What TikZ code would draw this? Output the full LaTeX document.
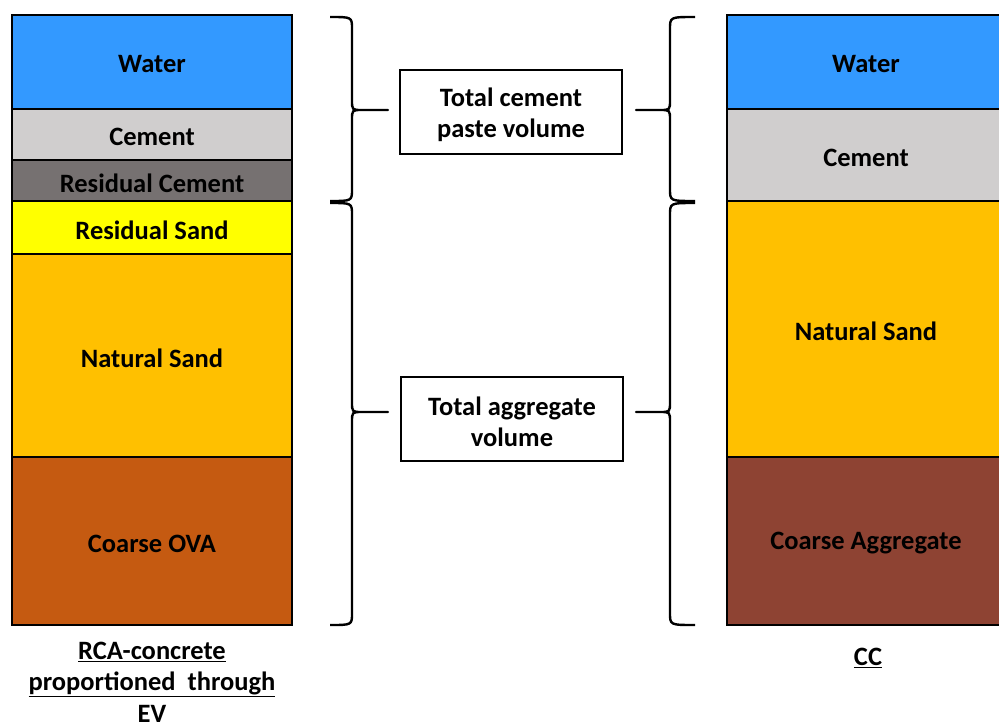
\documentclass[tikz,border=0pt]{standalone}
\usepackage{fontspec}
\setmainfont{Carlito}
\definecolor{water}{HTML}{3399FF}
\definecolor{cement}{HTML}{D0CECE}
\definecolor{rescement}{HTML}{767171}
\definecolor{ressand}{HTML}{FFFF00}
\definecolor{natsand}{HTML}{FFC000}
\definecolor{ova}{HTML}{C55A11}
\definecolor{coarse}{HTML}{8E4333}
\tikzset{
  layer/.style={draw=black, line width=2.2pt, inner sep=0pt, align=center,
    font=\fontsize{26.5}{31}\selectfont\bfseries},
  lcol/.style={layer, minimum width=280pt},
  rcol/.style={layer, minimum width=278pt},
  labelbox/.style={draw=black, line width=2pt, fill=white, minimum width=222pt,
    minimum height=84pt, align=center, inner sep=0pt,
    font=\fontsize{26.5}{31}\selectfont\bfseries},
  caption/.style={align=center, inner sep=0pt,
    font=\fontsize{26.5}{31.5}\selectfont\bfseries},
  brace/.style={draw=black, line width=2.4pt, line join=round}
}
% curly brace: #1 end x, #2 spine x, #3 tip x, #4 top y, #5 tip y, #6 bottom y, #7 bend x
\newcommand\curlybrace[7]{%
  \draw[brace] (#1,#4) .. controls (#2,#4) .. (#2,#4+12) -- (#2,#5-10)
    .. controls (#2,#5) .. (#7,#5) -- (#3,#5) -- (#7,#5)
    .. controls (#2,#5) .. (#2,#5+10) -- (#2,#6-12)
    .. controls (#2,#6) .. (#1,#6);}
% text lowered slightly inside its layer, keeping its box size
\newcommand\lbl[1]{\raisebox{-2.5pt}[\height][\depth]{#1}}
\begin{document}
\begin{tikzpicture}[x=1pt,y=-1pt]
\clip (0,0) rectangle (999,723);
\fill[white] (0,0) rectangle (999,723);

% left column: recycled-aggregate concrete
\node[lcol, fill=water,     minimum height=94pt]  (lwater)  at (152,62)    {\lbl{Water}};
\node[lcol, fill=cement,    minimum height=51pt]  (lcem)    at (152,134.5) {\lbl{Cement}};
\node[lcol, fill=rescement, minimum height=41pt]  (lrcem)   at (152,180.5) {\lbl{Residual Cement}};
\node[lcol, fill=ressand,   minimum height=53pt]  (lrsand)  at (152,227.5) {\lbl{Residual Sand}};
\node[lcol, fill=natsand,   minimum height=203pt] (lnsand)  at (152,355.5) {\lbl{Natural Sand}};
\node[lcol, fill=ova,       minimum height=168pt] (lcoarse) at (152,541)   {\lbl{Coarse OVA}};

% right column: conventional concrete
\node[rcol, fill=water,   minimum height=94pt]  (rwater)  at (866,62)  {\lbl{Water}};
\node[rcol, fill=cement,  minimum height=92pt]  (rcem)    at (866,155) {\lbl{Cement}};
\node[rcol, fill=natsand, minimum height=256pt] (rnsand)  at (866,329) {\lbl{Natural Sand}};
\node[rcol, fill=coarse,  minimum height=168pt] (rcoarse) at (866,541) {\lbl{Coarse Aggregate}};

% label boxes
\node[labelbox] (paste) at (511,112) {\lbl{Total cement}\\\lbl{paste volume}};
\node[labelbox] (aggr)  at (512,419) {\lbl{Total aggregate}\\\lbl{volume}};

% braces
\curlybrace{330}{352}{388}{17}{110}{201}{362}
\curlybrace{330}{352}{388}{203}{412}{625}{362}
\curlybrace{695}{670}{636}{17}{110}{201}{660}
\curlybrace{695}{670}{636}{203}{412}{625}{660}

% captions
\node[caption] (lcap) at (152,682)
  {\underline{RCA-concrete}\\\underline{proportioned\ \ through}\\EV};
\node[caption] (rcap) at (868,658) {\underline{CC}};
\end{tikzpicture}
\end{document}
